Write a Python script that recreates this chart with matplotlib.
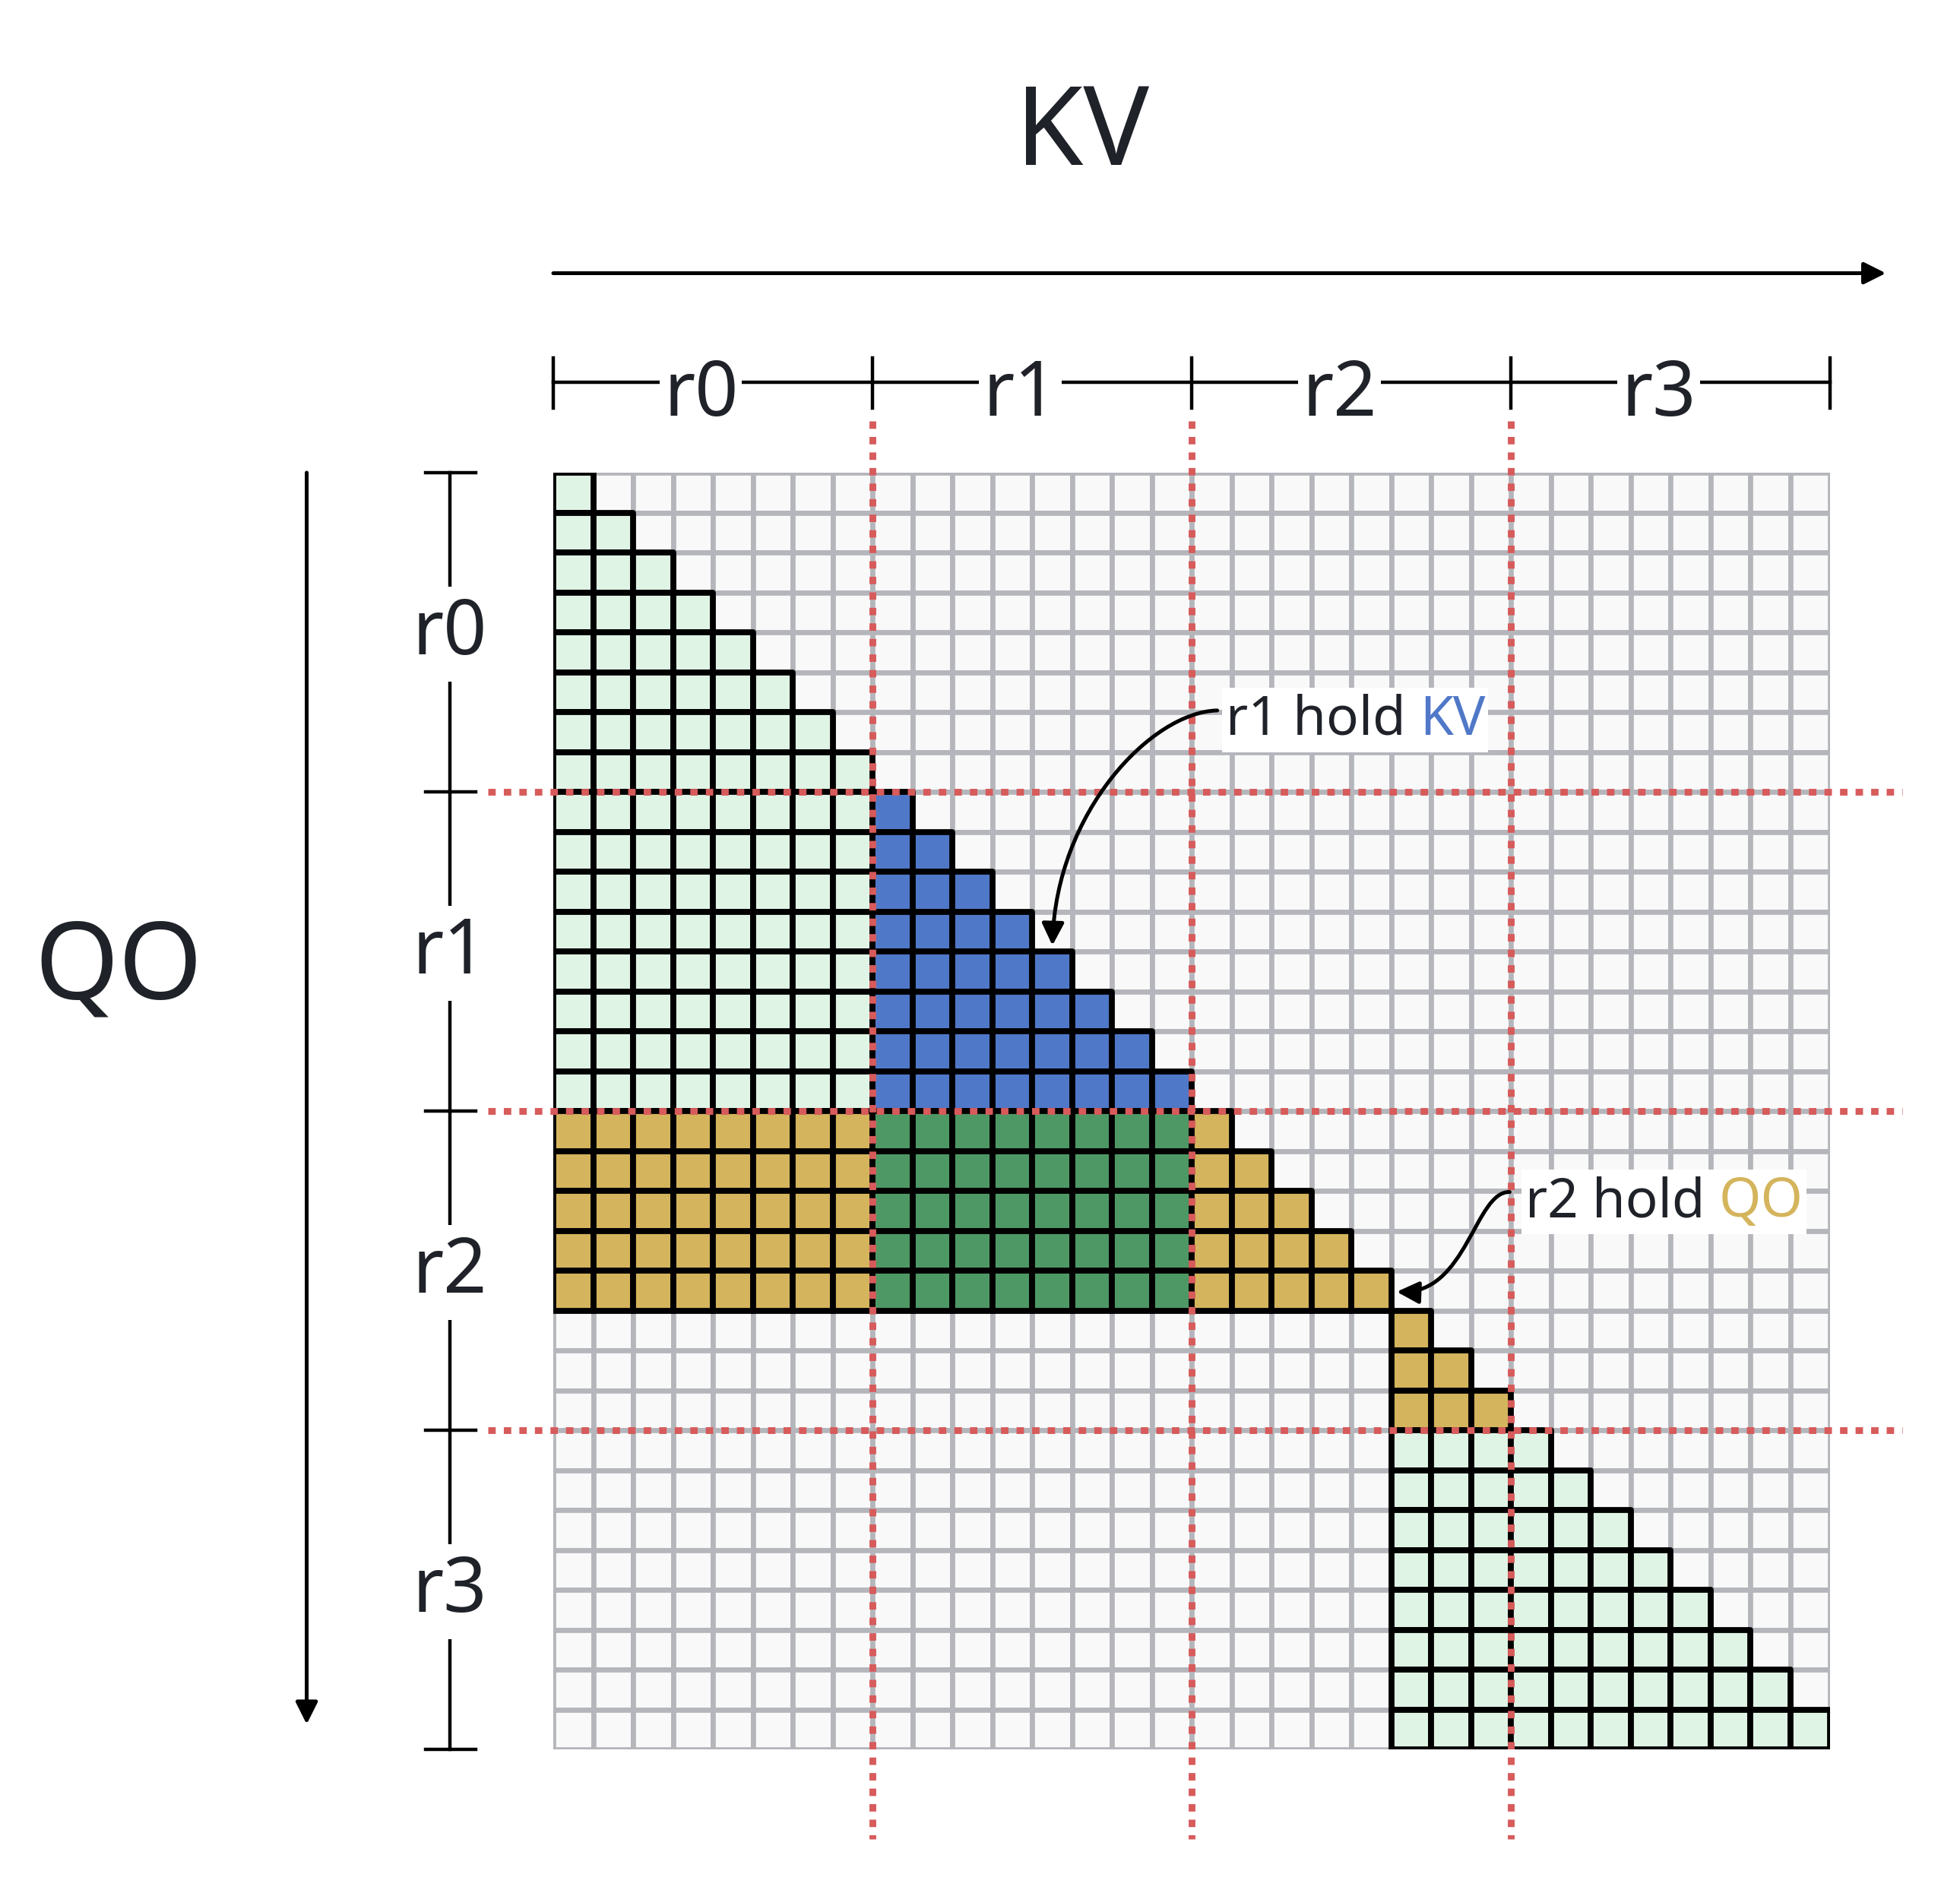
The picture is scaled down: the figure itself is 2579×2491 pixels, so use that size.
import numpy as np
import matplotlib.pyplot as plt
from matplotlib.patches import Rectangle, FancyArrowPatch
from matplotlib.collections import PatchCollection
from matplotlib.path import Path
from matplotlib.transforms import Bbox

plt.rcParams['font.family'] = ['Noto Sans', 'DejaVu Sans']

# --- data ---
rank_names = ['r0', 'r1', 'r2', 'r3']
tokens_per_rank = 8
doc_lengths = [21, 11]          # two packed documents
kv_holder = 1                   # rank that holds the shared KV
qo_holder = 2                   # rank that holds the shared QO

cell_colors = {
    'empty': '#f9f9f9',
    'local': '#dff4e5',
    'kv': '#5078c8',
    'both': '#4e9865',
    'qo': '#d4b45c',
}
text_color = '#1f2228'
red = '#d75b5b'

# --- build mask categories ---
n = sum(doc_lengths)
doc_id = np.repeat(np.arange(len(doc_lengths)), doc_lengths)
rank_of = np.arange(n) // tokens_per_rank
q = np.arange(n)[:, None]
k = np.arange(n)[None, :]
mask = (k <= q) & (doc_id[:, None] == doc_id[None, :])
qr = rank_of[:, None]
kr = rank_of[None, :]

cat = np.full((n, n), 'empty', dtype=object)
cat[mask] = 'local'
cat[mask & (qr == kv_holder) & (kr == kv_holder)] = 'kv'
cat[mask & (qr == qo_holder)] = 'qo'
cat[mask & (qr == qo_holder) & (kr == kv_holder)] = 'both'

W, H = 2579, 2491
fig = plt.figure(figsize=(W / 200, H / 200), dpi=200)
ax = fig.add_axes([728 / W, 1 - 2302 / H, 1680 / W, 1680 / H])
ax.set_xlim(0, n)
ax.set_ylim(n, 0)
ax.axis('off')

# empty cells first, then the coloured ones on top
empty = [Rectangle((c, r), 1, 1) for r in range(n) for c in range(n) if cat[r, c] == 'empty']
ax.add_collection(PatchCollection(empty, facecolor=cell_colors['empty'],
                                  edgecolor='#b4b6bb', linewidth=2.4, zorder=1))
filled = [(r, c) for r in range(n) for c in range(n) if cat[r, c] != 'empty']
ax.add_collection(PatchCollection([Rectangle((c, r), 1, 1) for r, c in filled],
                                  facecolor=[cell_colors[cat[r, c]] for r, c in filled],
                                  edgecolor='black', linewidth=2.8, zorder=2))

# rank boundaries
bounds = np.arange(tokens_per_rank, n, tokens_per_rank)
dots = dict(color=red, lw=3.2, ls=(0, (1.1, 1.2)), zorder=5, clip_on=False)
for b in bounds:
    ax.plot([b, b], [-1.3, 34.25], **dots)
    ax.plot([-1.64, 33.8], [b, b], **dots)

# axis arrows and titles
arrow_kw = dict(arrowstyle='-|>', lw=1.8, color='black', mutation_scale=22,
                shrinkA=0, shrinkB=0)
ax.annotate('', xy=(33.4, -5), xytext=(0, -5), arrowprops=arrow_kw,
            annotation_clip=False)
ax.annotate('', xy=(-6.18, 31.37), xytext=(-6.18, 0), arrowprops=arrow_kw,
            annotation_clip=False)
ax.text(13.25, -7.71, 'KV', ha='center', va='baseline', fontsize=52,
        color=text_color, clip_on=False)
ax.text(-10.9, 13.2, 'QO', ha='center', va='baseline', fontsize=51,
        color=text_color, clip_on=False)

# rank brackets
edges = np.arange(0, n + 1, tokens_per_rank)
ax.plot([0, n], [-2.27, -2.27], color='black', lw=1.6, clip_on=False, zorder=3)
ax.plot([-2.59, -2.59], [0, n], color='black', lw=1.6, clip_on=False, zorder=3)
for e in edges:
    ax.plot([e, e], [-2.87, -1.62], color='black', lw=1.6, clip_on=False, zorder=3)
    ax.plot([-3.2, -1.94], [e, e], color='black', lw=1.6, clip_on=False, zorder=3)
for i, name in enumerate(rank_names):
    mid = edges[i] + tokens_per_rank / 2
    ax.text(mid - 0.3, -1.43, name, ha='center', va='baseline', fontsize=36,
            color=text_color, clip_on=False, zorder=4,
            bbox=dict(boxstyle='square,pad=0.05', fc='white', ec='none'))
    ax.text(-2.59, mid + 0.55, name, ha='center', va='baseline', fontsize=36,
            color=text_color, clip_on=False, zorder=4,
            bbox=dict(boxstyle='square,pad=0.12', fc='white', ec='none'))

# callouts
fs = 25.5
callouts = []

def callout(x, y, label, key, key_color, curve):
    t1 = ax.text(x, y, label, ha='left', va='baseline', fontsize=fs,
                 color=text_color, zorder=8)
    t2 = ax.annotate(key, xy=(1, 0), xycoords=t1, xytext=(0.26 * fs, 0),
                     textcoords='offset points', ha='left', va='bottom',
                     fontsize=fs, color=key_color, zorder=8)
    p = Path(curve, [Path.MOVETO, Path.CURVE4, Path.CURVE4, Path.CURVE4])
    ax.add_patch(FancyArrowPatch(path=p, arrowstyle='-|>', mutation_scale=22,
                                 lw=1.8, color='black', zorder=7))
    callouts.append((t1, t2))

callout(16.85, 6.57, 'r1 hold', 'KV', cell_colors['kv'],
        [(16.64, 5.96), (15.0, 6.0), (12.6, 8.5), (12.51, 11.85)])
callout(24.36, 18.65, 'r2 hold', 'QO', cell_colors['qo'],
        [(23.97, 18.03), (23.1, 18.0), (22.9, 20.6), (21.14, 20.53)])

# white box behind each callout label
fig.canvas.draw()
renderer = fig.canvas.get_renderer()
inv = ax.transData.inverted()
for t1, t2 in callouts:
    bb = Bbox.union([t1.get_window_extent(renderer), t2.get_window_extent(renderer)])
    (x0, y0), (x1, y1) = inv.transform([[bb.x0 - 5, bb.y0 - 6], [bb.x1 + 4, bb.y1 + 8]])
    ax.add_patch(Rectangle((x0, y1), x1 - x0, y0 - y1, facecolor='white',
                           edgecolor='none', zorder=6))

fig.savefig('out.png', dpi=200, facecolor='white')
